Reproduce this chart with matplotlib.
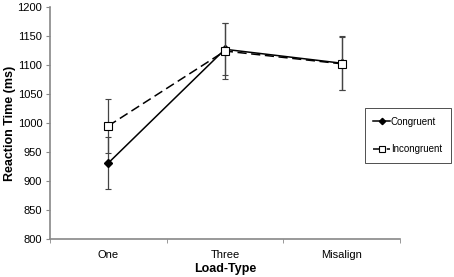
import matplotlib
matplotlib.use("Agg")
import matplotlib.pyplot as plt

categories = ["One", "Three", "Misalign"]
congruent = [931, 1127, 1103]
congruent_err = [45, 45, 47]
incongruent = [995, 1124, 1102]
incongruent_err = [46, 48, 46]

plt.rcParams['font.family'] = ['Liberation Sans', 'DejaVu Sans']

fig = plt.figure(figsize=(4.54, 2.77), dpi=100)
ax = fig.add_axes([0.110, 0.137, 0.771, 0.838])
x = list(range(len(categories)))

eb1 = ax.errorbar(x, congruent, yerr=congruent_err, color='black', lw=1.1, marker='D',
                  ms=4, mfc='black', mec='black', ecolor='#444444', elinewidth=0.9,
                  capsize=2, capthick=0.8, label='Congruent', zorder=3)
eb2 = ax.errorbar(x, incongruent, yerr=incongruent_err, color='black', lw=1.1, ls=(0, (6, 3)),
                  marker='s', ms=6, mfc='white', mec='black', mew=0.8, ecolor='#444444',
                  elinewidth=0.9, capsize=2, capthick=0.8, label='Incongruent', zorder=4)

ax.set_xlim(-0.5, 2.5)
ax.set_ylim(800, 1200)
ax.set_yticks(range(800, 1201, 50))
ax.set_xticks(x)
ax.set_xticklabels(categories)
ax.set_xticks([-0.5, 0.5, 1.5, 2.5], minor=True)
ax.tick_params(axis='x', which='major', length=0, pad=8)
ax.tick_params(axis='x', which='minor', length=3, color='#888888')
ax.tick_params(axis='y', length=3, color='#888888', labelsize=8, pad=2.5)
ax.tick_params(axis='x', labelsize=8)
for s in ['top', 'right']:
    ax.spines[s].set_visible(False)
for s in ['left', 'bottom']:
    ax.spines[s].set_color('#888888')
    ax.spines[s].set_linewidth(1.2)

ax.set_ylabel('Reaction Time (ms)', fontsize=9, fontweight='bold', labelpad=1)
ax.set_xlabel('Load-Type', fontsize=9, fontweight='bold', labelpad=2)

leg = ax.legend(handles=[eb1[0], eb2[0]], labels=['Congruent', 'Incongruent'],
                loc='upper left', bbox_to_anchor=(0.885, 0.586), fontsize=7,
                frameon=True, fancybox=False, edgecolor='black', handlelength=1.7,
                handletextpad=0.1, labelspacing=1.8, borderpad=0.9, markerscale=0.8)
leg.get_frame().set_linewidth(0.6)

fig.savefig('out.png', dpi=100)
